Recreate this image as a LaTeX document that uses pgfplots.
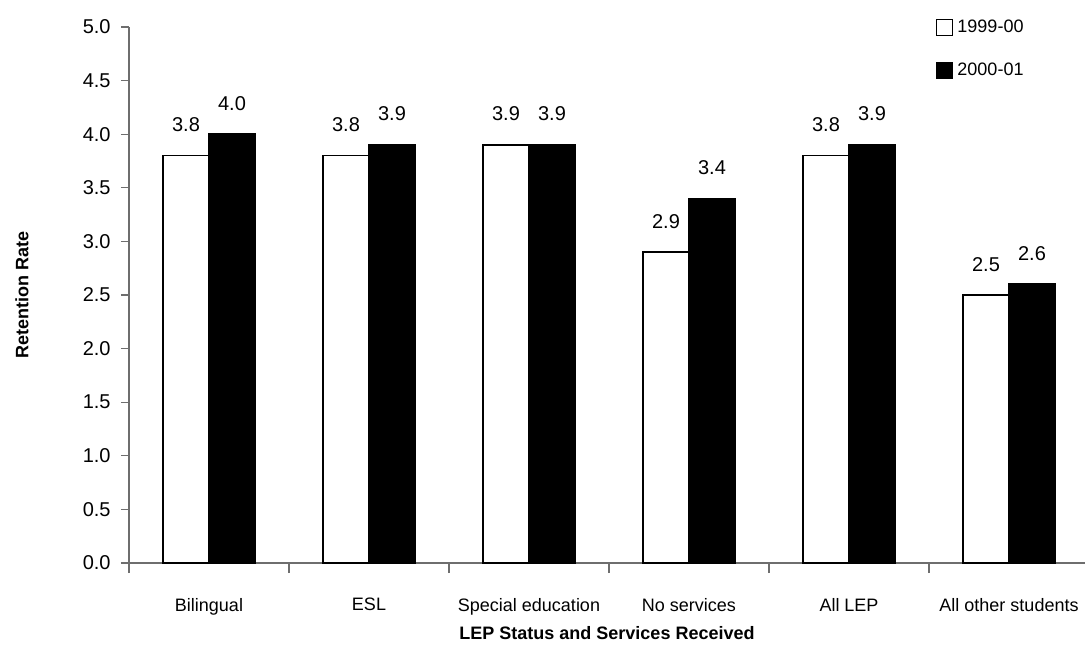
\documentclass[border=0pt]{standalone}
\usepackage{fontspec}
\setmainfont{Liberation Sans}
\usepackage{pgfplots}
\pgfplotsset{compat=1.18}
\definecolor{axgray}{RGB}{110,110,110}
\begin{document}
\fontsize{9pt}{11pt}\selectfont
\begin{tikzpicture}
\begin{axis}[
  at={(0,0)}, anchor=south west,
  scale only axis,
  width=478pt, height=268pt,
  xmin=-0.5, xmax=5.475,
  ymin=0, ymax=5,
  axis lines=left,
  axis line style={axgray, line width=0.6pt, -},
  ybar=0pt, bar width=23pt,
  ytick={0,0.5,...,5.0},
  yticklabel style={/pgf/number format/fixed, /pgf/number format/fixed zerofill, /pgf/number format/precision=1, xshift=-2pt, font=\fontsize{10pt}{12pt}\selectfont},
  /pgf/number format/assume math mode=true,
  xtick={0,1,2,3,4,5},
  xticklabels={Bilingual, ESL, Special education, No services, All LEP, All other students},
  major x tick style={draw=none},
  minor xtick={-0.5,0.5,1.5,2.5,3.5,4.5},
  minor x tick style={axgray, line width=0.6pt},
  minor tick length=5pt,
  major tick length=4pt,
  y tick style={axgray, line width=0.6pt},
  tick align=outside,
  xticklabel style={yshift=-10.5pt, font=\fontsize{9pt}{11pt}\selectfont},
  xlabel={\textbf{LEP Status and Services Received}},
  ylabel={\textbf{Retention Rate}},
  xlabel style={at={(axis description cs:0.5,-0.1306)}, anchor=center},
  ylabel style={at={(axis description cs:-0.112,0.5)}, anchor=center},
  label style={font=\fontsize{9pt}{11pt}\selectfont},
  nodes near coords,
  nodes near coords style={font=\fontsize{10pt}{12pt}\selectfont, /pgf/number format/fixed, /pgf/number format/fixed zerofill, /pgf/number format/precision=1, yshift=8.5pt},
  legend style={at={(0.844,1.022)}, anchor=north west, draw=none, fill=none, font=\fontsize{9pt}{11pt}\selectfont, row sep=10pt, inner sep=0pt},
  legend cell align=left,
  legend image code/.code={\draw[#1, line width=0.6pt] (0pt,-4pt) rectangle (8pt,4pt);},
  clip=false,
]
\addplot[draw=black, fill=white, line width=0.8pt] coordinates {(0,3.8) (1,3.8) (2,3.9) (3,2.9) (4,3.8) (5,2.5)};
\addplot[draw=black, fill=black, line width=0.8pt] coordinates {(0,4.0) (1,3.9) (2,3.9) (3,3.4) (4,3.9) (5,2.6)};
\legend{1999-00, 2000-01}
\end{axis}
\pgfresetboundingbox
\path[use as bounding box] (-64.5pt,-44.5pt) rectangle (478pt,281.5pt);
\end{tikzpicture}
\end{document}
